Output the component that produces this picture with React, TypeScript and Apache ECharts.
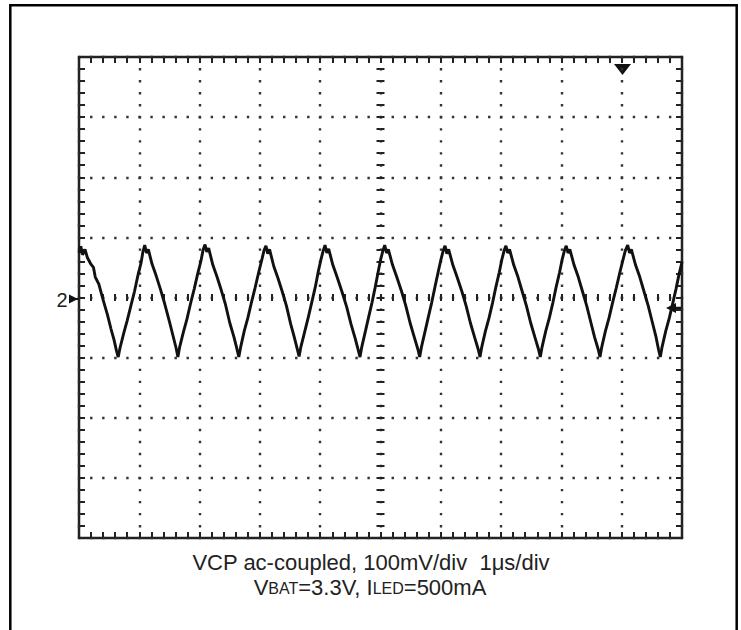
import React, { useEffect, useRef } from "react";
import * as echarts from "echarts";

// Scope trace: time in µs (1 µs/div), voltage in mV (100 mV/div, ac-coupled)
const timeUs = [
  0.0, 0.03, 0.06, 0.1, 0.14, 0.2, 0.24, 0.27, 0.33, 0.4, 0.47, 0.53, 0.58, 0.62, 0.65, 0.68,
  0.74, 0.8, 0.86, 0.92, 0.95, 0.98, 1.03, 1.06, 1.09, 1.12, 1.15,
  1.21, 1.28, 1.35, 1.42, 1.5, 1.56, 1.61, 1.64, 1.67,
  1.73, 1.79, 1.85, 1.91, 1.97, 2.02, 2.06, 2.09, 2.12, 2.15,
  2.22, 2.29, 2.36, 2.43, 2.5, 2.57, 2.62, 2.65, 2.68,
  2.74, 2.8, 2.86, 2.92, 2.98, 3.03, 3.07, 3.1, 3.13, 3.16,
  3.23, 3.3, 3.37, 3.44, 3.51, 3.57, 3.62, 3.65, 3.68,
  3.74, 3.8, 3.86, 3.92, 3.97, 4.01, 4.05, 4.08, 4.11, 4.14,
  4.21, 4.28, 4.36, 4.44, 4.51, 4.58, 4.63, 4.66, 4.69,
  4.75, 4.8, 4.86, 4.91, 4.96, 5.0, 5.04, 5.07, 5.1, 5.13,
  5.2, 5.27, 5.35, 5.42, 5.49, 5.56, 5.62, 5.65, 5.68,
  5.74, 5.79, 5.85, 5.9, 5.96, 6.0, 6.04, 6.07, 6.1, 6.13,
  6.2, 6.27, 6.35, 6.42, 6.49, 6.56, 6.62, 6.65, 6.68,
  6.74, 6.8, 6.86, 6.91, 6.97, 7.01, 7.05, 7.08, 7.11, 7.14,
  7.21, 7.28, 7.35, 7.42, 7.49, 7.56, 7.62, 7.65, 7.68,
  7.74, 7.8, 7.86, 7.91, 7.97, 8.01, 8.05, 8.08, 8.11, 8.14,
  8.21, 8.28, 8.35, 8.42, 8.49, 8.55, 8.61, 8.64, 8.67,
  8.73, 8.79, 8.85, 8.91, 8.97, 9.02, 9.06, 9.1, 9.13, 9.16,
  9.23, 9.3, 9.37, 9.44, 9.51, 9.57, 9.61, 9.64, 9.67,
  9.73, 9.79, 9.85, 9.9, 9.95, 10.0,
];
const voltsMv = [
  74, 85, 71, 80, 66, 55, 50, 34, 22, -4, -28, -52, -70, -88, -99, -84,
  -60, -38, -14, 10, 24, 38, 58, 76, 87, 74, 80,
  56, 36, 14, -10, -40, -64, -84, -99, -82,
  -58, -36, -10, 14, 40, 60, 80, 88, 76, 82,
  54, 34, 12, -12, -42, -66, -86, -99, -83,
  -56, -34, -8, 16, 42, 62, 79, 86, 73, 80,
  52, 32, 10, -14, -44, -66, -86, -98, -82,
  -58, -34, -8, 18, 44, 62, 78, 87, 74, 81,
  54, 34, 10, -16, -44, -68, -87, -99, -82,
  -56, -34, -8, 16, 42, 62, 78, 87, 74, 80,
  54, 34, 10, -14, -42, -66, -86, -99, -82,
  -56, -34, -8, 16, 44, 62, 78, 86, 73, 80,
  54, 34, 10, -14, -42, -66, -86, -99, -82,
  -56, -34, -8, 16, 42, 62, 78, 86, 74, 80,
  54, 34, 10, -14, -42, -66, -86, -99, -82,
  -56, -34, -8, 16, 42, 62, 78, 86, 74, 80,
  54, 34, 10, -14, -42, -66, -86, -99, -82,
  -56, -34, -8, 16, 42, 62, 78, 87, 74, 80,
  54, 34, 10, -14, -42, -66, -86, -99, -82,
  -56, -34, -8, 14, 38, 59,
];

const xRange = [0, 10];
const yRange = [-400, 400];
const captionLine1 = "VCP ac-coupled, 100mV/div  1μs/div";
const channelLabel = "2";

const INK = "#222222";
const DOT = "#333333";

export default function App() {
  const ref = useRef<HTMLDivElement>(null);

  useEffect(() => {
    if (!ref.current) return;
    const chart = echarts.init(ref.current, null, { renderer: "svg" });

    const tickStyle = { color: INK, width: 2 };
    const mkX = (extra: any) => ({
      type: "value",
      min: xRange[0],
      max: xRange[1],
      interval: 1,
      axisLabel: { show: false },
      axisLine: { show: false, onZero: false },
      splitLine: { show: false },
      ...extra,
    });
    const mkY = (extra: any) => ({
      type: "value",
      min: yRange[0],
      max: yRange[1],
      interval: 100,
      axisLabel: { show: false },
      axisLine: { show: false, onZero: false },
      splitLine: { show: false },
      ...extra,
    });
    const ticks = (inside: boolean, len: number) => ({
      axisTick: { show: true, inside, length: len, lineStyle: tickStyle },
      minorTick: { show: true, splitNumber: 5, length: len, lineStyle: tickStyle },
    });

    const data = timeUs.map((t, i) => [t, voltsMv[i]]);

    chart.setOption({
      animation: false,
      backgroundColor: "#ffffff",
      grid: {
        left: 79,
        top: 57,
        width: 603,
        height: 481,
        show: true,
        borderColor: INK,
        borderWidth: 2.5,
        backgroundColor: "transparent",
        outerBoundsMode: "none",
      },
      xAxis: [
        mkX({
          position: "bottom",
          ...ticks(true, 6),
          splitLine: {
            show: true,
            lineStyle: { color: DOT, width: 2.4, type: [2.4, 9.625], dashOffset: 1.2 },
          },
        }),
        mkX({ position: "top", ...ticks(true, 6) }),
        mkX({ position: "bottom", offset: -240.5, ...ticks(true, 3.5) }),
        mkX({ position: "bottom", offset: -240.5, ...ticks(false, 3.5) }),
      ],
      yAxis: [
        mkY({
          position: "left",
          ...ticks(true, 6),
          splitLine: {
            show: true,
            lineStyle: { color: DOT, width: 2.4, type: [2.4, 9.66], dashOffset: 1.2 },
          },
        }),
        mkY({ position: "right", ...ticks(true, 6) }),
        mkY({ position: "left", offset: -301.5, ...ticks(true, 4) }),
        mkY({ position: "left", offset: -301.5, ...ticks(false, 4) }),
      ],
      series: [
        {
          type: "line",
          xAxisIndex: 0,
          yAxisIndex: 0,
          data,
          symbol: "none",
          lineStyle: { color: "#111111", width: 2.9 },
          z: 5,
        },
      ],
      graphic: [
        {
          type: "rect",
          shape: { x: 10.3, y: 5.3, width: 726.4, height: 700 },
          style: { fill: "none", stroke: "#000000", lineWidth: 2.5 },
          silent: true,
        },
        {
          type: "polygon",
          shape: { points: [[614, 64], [631, 64], [622.5, 75]] },
          style: { fill: "#111111" },
        },
        {
          type: "polygon",
          shape: { points: [[69, 294.5], [69, 303.5], [78, 299]] },
          style: { fill: "#111111" },
        },
        {
          type: "line",
          shape: { x1: 76, y1: 299, x2: 80, y2: 299 },
          style: { stroke: "#111111", lineWidth: 2 },
        },
        {
          type: "text",
          style: {
            x: 62,
            y: 299.5,
            text: channelLabel,
            fontFamily: "Liberation Sans",
            fontSize: 20,
            fill: INK,
            textAlign: "center",
            textVerticalAlign: "middle",
          },
        },
        {
          type: "polygon",
          shape: { points: [[666, 308], [676, 303], [676, 313]] },
          style: { fill: "#111111" },
        },
        {
          type: "line",
          shape: { x1: 676, y1: 308, x2: 681, y2: 308 },
          style: { stroke: "#111111", lineWidth: 2.5 },
        },
        {
          type: "text",
          style: {
            x: 371,
            y: 562.4,
            text: captionLine1,
            fontFamily: "Liberation Sans",
            fontSize: 22,
            fill: INK,
            textAlign: "center",
            textVerticalAlign: "middle",
          },
        },
        {
          type: "text",
          style: {
            x: 370,
            y: 587.4,
            text: "{n|V}{s|BAT}{n|=3.3V, I}{s|LED}{n|=500mA}",
            fontFamily: "Liberation Sans",
            fill: INK,
            textAlign: "center",
            textVerticalAlign: "middle",
            rich: {
              n: { fontSize: 22, fontFamily: "Liberation Sans", fill: INK, verticalAlign: "bottom" },
              s: {
                fontSize: 16,
                fontFamily: "Liberation Sans",
                fill: INK,
                verticalAlign: "bottom",
                padding: [0, 0, 1.5, 0],
              },
            },
          },
        },
      ],
    });

    return () => chart.dispose();
  }, []);

  return (
    <div
      ref={ref}
      style={{ position: "absolute", left: 0, top: 0, width: 741, height: 630, background: "#fff" }}
    />
  );
}
